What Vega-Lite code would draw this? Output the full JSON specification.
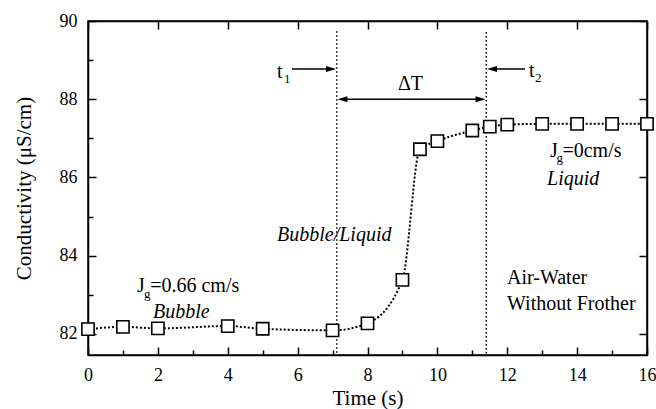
{
  "$schema": "https://vega.github.io/schema/vega-lite/v6.json",
  "width": 559,
  "height": 334,
  "autosize": {"type": "none"},
  "padding": {"left": 88, "top": 21, "right": 9, "bottom": 54},
  "background": "white",
  "config": {
    "view": {"stroke": "black", "strokeWidth": 1.5},
    "font": "Liberation Serif",
    "axis": {"grid": false, "domainColor": "black", "domainWidth": 1.5, "tickColor": "black", "tickWidth": 1.5, "labelColor": "black", "titleColor": "black", "labelFont": "Liberation Serif", "titleFont": "Liberation Serif", "labelFontSize": 18, "titleFontSize": 21, "titleFontWeight": "normal"}
  },
  "datasets": {
    "series": [
      {"time": 0, "cond": 82.12},
      {"time": 1, "cond": 82.18},
      {"time": 2, "cond": 82.14},
      {"time": 4, "cond": 82.2},
      {"time": 5, "cond": 82.13},
      {"time": 7, "cond": 82.09},
      {"time": 8, "cond": 82.27},
      {"time": 9, "cond": 83.38},
      {"time": 9.5, "cond": 86.72},
      {"time": 10, "cond": 86.93},
      {"time": 11, "cond": 87.2},
      {"time": 11.5, "cond": 87.3},
      {"time": 12, "cond": 87.35},
      {"time": 13, "cond": 87.37},
      {"time": 14, "cond": 87.37},
      {"time": 15, "cond": 87.37},
      {"time": 16, "cond": 87.37}
    ]
  },
  "layer": [
    {
      "layer": [
        {
          "data": {"values": [
            {"x": 7.12, "y": 89.74, "y2": 81.46},
            {"x": 11.4, "y": 89.72, "y2": 81.46}
          ]},
          "mark": {"type": "rule", "color": "black", "strokeWidth": 1.5, "strokeDash": [1.5, 2.5]},
          "encoding": {
            "x": {"field": "x", "type": "quantitative"},
            "y": {"field": "y", "type": "quantitative"},
            "y2": {"field": "y2"}
          }
        },
        {
          "data": {"values": [
            {"x": 5.84, "x2": 6.9, "y": 88.77},
            {"x": 11.6, "x2": 12.51, "y": 88.77},
            {"x": 7.3, "x2": 11.2, "y": 88.0}
          ]},
          "mark": {"type": "rule", "color": "black", "strokeWidth": 1.5},
          "encoding": {
            "x": {"field": "x", "type": "quantitative"},
            "x2": {"field": "x2"},
            "y": {"field": "y", "type": "quantitative"}
          }
        },
        {
          "data": {"values": [
            {"x": 7.1, "y": 88.77, "dir": "right"},
            {"x": 11.42, "y": 88.77, "dir": "left"},
            {"x": 7.14, "y": 88.0, "dir": "left"},
            {"x": 11.38, "y": 88.0, "dir": "right"}
          ]},
          "mark": {"type": "point", "filled": true, "color": "black", "opacity": 1, "size": 400},
          "encoding": {
            "x": {"field": "x", "type": "quantitative"},
            "y": {"field": "y", "type": "quantitative"},
            "shape": {"field": "dir", "type": "nominal", "legend": null, "scale": {"domain": ["right", "left"], "range": ["M0,0L-1,-0.3L-1,0.3Z", "M0,0L1,-0.3L1,0.3Z"]}}
          }
        },
        {
          "data": {"name": "series"},
          "mark": {"type": "line", "color": "black", "strokeWidth": 2, "strokeDash": [2, 2], "interpolate": "monotone"},
          "encoding": {
            "x": {"field": "time", "type": "quantitative"},
            "y": {"field": "cond", "type": "quantitative"}
          }
        },
        {
          "data": {"name": "series"},
          "mark": {"type": "point", "shape": "square", "filled": true, "fill": "white", "stroke": "black", "strokeWidth": 1.6, "opacity": 1, "size": 150},
          "encoding": {
            "x": {"field": "time", "type": "quantitative"},
            "y": {"field": "cond", "type": "quantitative"}
          }
        },
        {
          "data": {"values": [
            {"text": "J", "x": 1.402, "y": 83.073},
            {"text": "=0.66 cm/s", "x": 1.78, "y": 83.073},
            {"text": "J", "x": 13.223, "y": 86.524},
            {"text": "=0cm/s", "x": 13.58, "y": 86.524},
            {"text": "Air-Water", "x": 11.993, "y": 83.278},
            {"text": "Without Frother", "x": 11.993, "y": 82.613},
            {"text": "t", "x": 5.41, "y": 88.543},
            {"text": "t", "x": 12.622, "y": 88.569},
            {"text": "ΔT", "x": 8.873, "y": 88.236}
          ]},
          "mark": {"type": "text", "align": "left", "baseline": "alphabetic", "font": "Liberation Serif", "fontSize": 20, "color": "black"},
          "encoding": {
            "x": {"field": "x", "type": "quantitative"},
            "y": {"field": "y", "type": "quantitative"},
            "text": {"field": "text"}
          }
        },
        {
          "data": {"values": [
            {"text": "g", "x": 1.6, "y": 82.92},
            {"text": "g", "x": 13.41, "y": 86.396},
            {"text": "1", "x": 5.61, "y": 88.415},
            {"text": "2", "x": 12.794, "y": 88.44}
          ]},
          "mark": {"type": "text", "align": "left", "baseline": "alphabetic", "font": "Liberation Serif", "fontSize": 13, "color": "black"},
          "encoding": {
            "x": {"field": "x", "type": "quantitative"},
            "y": {"field": "y", "type": "quantitative"},
            "text": {"field": "text"}
          }
        },
        {
          "data": {"values": [
            {"text": "Bubble", "x": 1.86, "y": 82.41},
            {"text": "Bubble/Liquid", "x": 5.41, "y": 84.377},
            {"text": "Liquid", "x": 13.138, "y": 85.808}
          ]},
          "mark": {"type": "text", "align": "left", "baseline": "alphabetic", "font": "Liberation Serif", "fontSize": 20, "fontStyle": "italic", "color": "black"},
          "encoding": {
            "x": {"field": "x", "type": "quantitative"},
            "y": {"field": "y", "type": "quantitative"},
            "text": {"field": "text"}
          }
        }
      ],
      "encoding": {
        "x": {"type": "quantitative", "scale": {"domain": [0, 16], "nice": false, "zero": false},
          "axis": {"orient": "bottom", "title": "Time (s)", "values": [0,1,2,3,4,5,6,7,8,9,10,11,12,13,14,15,16],
            "tickSize": {"condition": {"test": "datum.value % 2 === 0", "value": -8}, "value": -5},
            "labelPadding": 19, "labelExpr": "datum.value % 2 === 0 ? datum.label : ''", "titlePadding": 3, "labelFlush": false}},
        "y": {"type": "quantitative", "scale": {"domain": [81.46, 90], "nice": false, "zero": false},
          "axis": {"orient": "left", "title": "Conductivity (μS/cm)", "values": [82,83,84,85,86,87,88,89,90],
            "tickSize": {"condition": {"test": "datum.value % 2 === 0", "value": -8}, "value": -5},
            "labelPadding": 19, "labelExpr": "datum.value % 2 === 0 ? datum.label : ''", "titlePadding": 25, "labelFlush": false}}
      }
    },
    {
      "data": {"name": "series"},
      "mark": {"type": "point", "opacity": 0},
      "encoding": {
        "x": {"field": "time", "type": "quantitative", "scale": {"domain": [0, 16], "nice": false, "zero": false},
          "axis": {"orient": "top", "title": null, "labels": false, "values": [0,2,4,6,8,10,12,14,16], "tickSize": -8}},
        "y": {"field": "cond", "type": "quantitative", "scale": {"domain": [81.46, 90], "nice": false, "zero": false},
          "axis": {"orient": "right", "title": null, "labels": false, "values": [82,84,86,88,90], "tickSize": -8}}
      }
    }
  ],
  "resolve": {"axis": {"x": "independent", "y": "independent"}}
}
